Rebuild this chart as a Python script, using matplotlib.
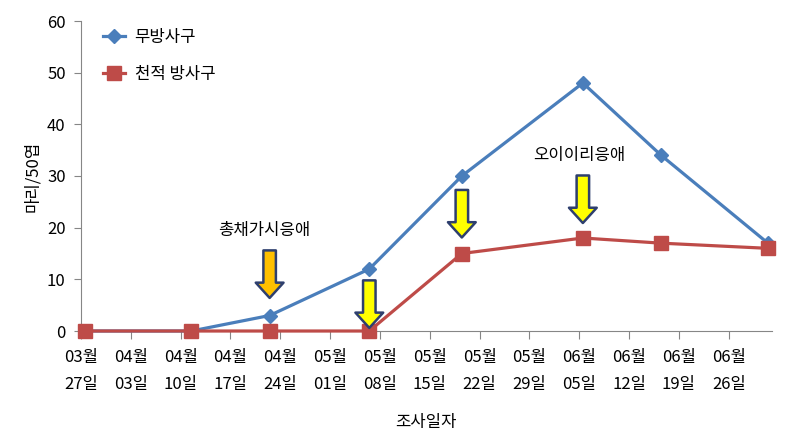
import matplotlib
matplotlib.use('Agg')
from matplotlib import pyplot as plt
import matplotlib.dates as mdates
import pandas as pd

plt.rcParams['font.family'] = ['Noto Sans CJK KR', 'DejaVu Sans']
plt.rcParams['font.size'] = 12

# survey dates and mite counts (마리/50엽)
dates = ['2013-03-27', '2013-04-11', '2013-04-22', '2013-05-06',
         '2013-05-19', '2013-06-05', '2013-06-16', '2013-07-01']
no_release = [0, 0, 3, 12, 30, 48, 34, 17]
release = [0, 0, 0, 0, 15, 18, 17, 16]
series_names = ['무방사구', '천적 방사구']

# release arrows: (series, point index, colour)
arrows = [(no_release, 2, '#FFC000'),
          (release, 3, '#FFFF00'),
          (release, 4, '#FFFF00'),
          (release, 5, '#FFFF00')]
arrow_gap = [3.4, 0.6, 3.1, 2.9]

# excel date axis puts each point in the middle of its day
x = pd.to_datetime(dates) + pd.Timedelta(hours=12)

fig = plt.figure(figsize=(7.94, 4.41), dpi=100)
ax = fig.add_axes([81 / 794, 110 / 441, 690.5 / 794, 310 / 441])

blue = '#4A7EBB'
red = '#BE4B48'
ax.plot(x, no_release, color=blue, lw=2.3, marker='D', ms=7,
        label=series_names[0], clip_on=False, zorder=3)
ax.plot(x, release, color=red, lw=2.3, marker='s', ms=10,
        label=series_names[1], clip_on=False, zorder=4)

for (vals, i, c), gap in zip(arrows, arrow_gap):
    tip = vals[i] + gap
    ax.annotate('', xy=(x[i], tip), xytext=(x[i], tip + 9.2),
                arrowprops=dict(arrowstyle='simple,head_length=1.1,head_width=2.0,tail_width=0.9',
                                fc=c, ec='#2E3F6E', lw=1.8, mutation_scale=10,
                                shrinkA=0, shrinkB=0),
                zorder=6)

ax.text(pd.Timestamp('2013-04-21 18:00'), 19.5, '총채가시응애', ha='center', va='center')
ax.text(pd.Timestamp('2013-06-05'), 34.0, '오이이리응애', ha='center', va='center')

ax.set_ylim(0, 60)
ax.set_yticks(range(0, 61, 10))
ax.set_xlim(pd.Timestamp('2013-03-27'), pd.Timestamp('2013-07-02'))
ax.set_xticks(pd.date_range('2013-03-27', '2013-06-26', freq='7D'))
ax.xaxis.set_major_formatter(mdates.DateFormatter('%m월\n%d일'))
plt.setp(ax.get_xticklabels(), linespacing=1.8)

for s in ['top', 'right']:
    ax.spines[s].set_visible(False)
for s in ['left', 'bottom']:
    ax.spines[s].set_color('#868686')
ax.tick_params(axis='both', colors='#868686', labelcolor='black', direction='out')
ax.tick_params(axis='x', length=6, pad=7)
ax.tick_params(axis='y', length=5, pad=6)

ax.set_xlabel('조사일자', labelpad=15)
ax.set_ylabel('마리/50엽', labelpad=4)

fig.legend(loc='upper left', bbox_to_anchor=(103 / 794, 1 - 29 / 441),
           frameon=False, borderpad=0, borderaxespad=0, handlelength=1.3,
           handletextpad=0.6, labelspacing=1.2)

plt.savefig('out.png', dpi=100)
